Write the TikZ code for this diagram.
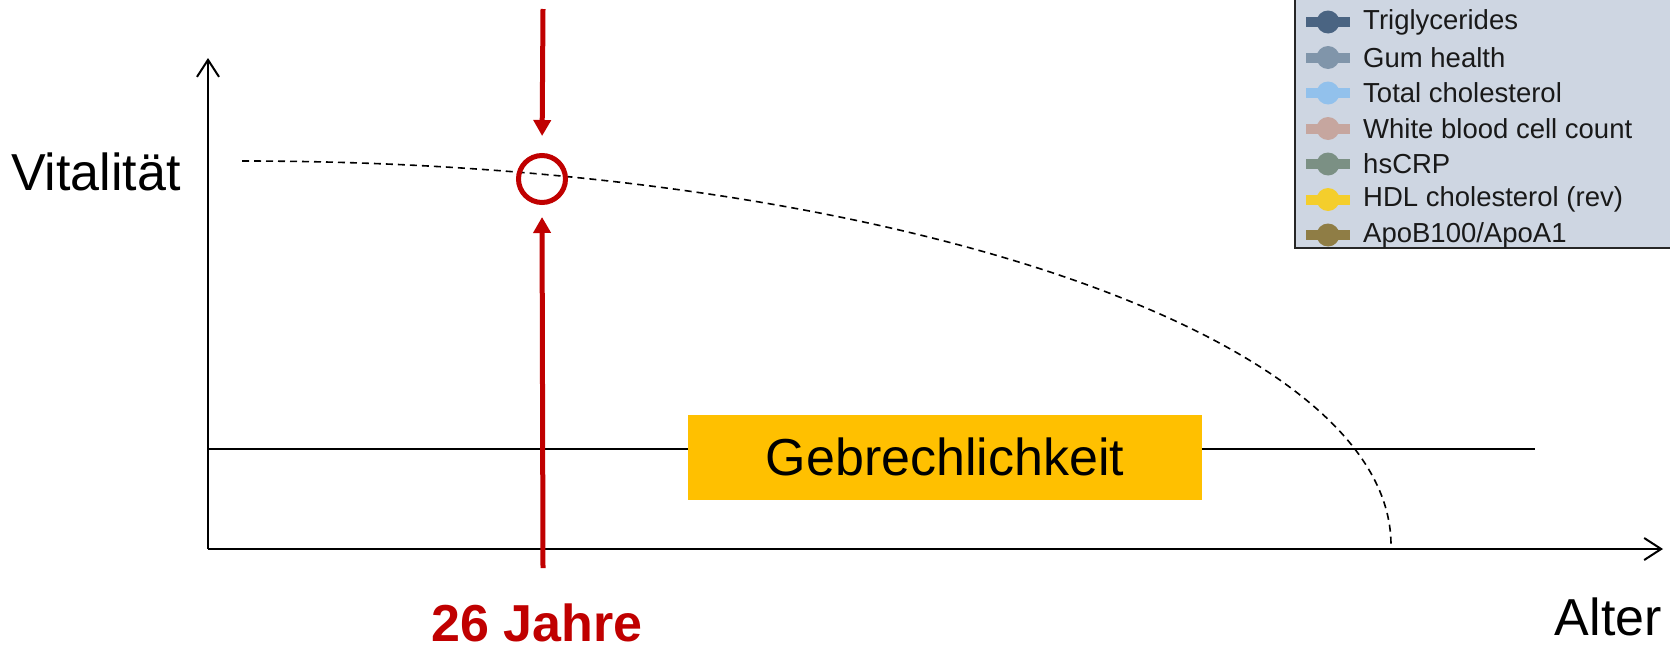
\documentclass[tikz,border=0pt]{standalone}
\usepackage{fontspec}
\setmainfont{Liberation Sans}
\usetikzlibrary{arrows.meta,positioning}
\definecolor{AgeRed}{HTML}{C00000}
\definecolor{FrailGold}{HTML}{FFC000}
\definecolor{LegendBg}{HTML}{CED6E2}
\definecolor{TriCol}{HTML}{4A6482}
\definecolor{GumCol}{HTML}{8095AA}
\definecolor{TcCol}{HTML}{92C1EC}
\definecolor{WbcCol}{HTML}{C6A69F}
\definecolor{CrpCol}{HTML}{7B9084}
\definecolor{HdlCol}{HTML}{F4CE2C}
\definecolor{ApoCol}{HTML}{8F7D45}

\begin{document}
\begin{tikzpicture}[x=1pt,y=-1pt,
axis/.style={line width=2pt,-{Straight Barb[length=17pt,width=22pt,line width=2pt]}},
frail/.style={line width=2pt},
vitcurve/.style={line width=1.6pt,dash pattern=on 7pt off 5pt},
redarr/.style={draw=AgeRed,line width=5pt,-{Triangle[length=16pt,width=17pt]}},
ring/.style={circle,draw=AgeRed,line width=5pt,minimum size=47pt,inner sep=0pt},
frailbox/.style={fill=FrailGold,minimum width=514pt,minimum height=85pt,inner sep=0pt,font=\fontsize{52}{60}\selectfont},
lbl/.style={font=\fontsize{52}{60}\selectfont,inner sep=0pt},
legtext/.style={font=\fontsize{27.5}{30}\selectfont,text=black!90,inner sep=0pt,anchor=west},
legmark/.style={line width=10pt}
]
\clip (0,0) rectangle (1670,653);
\fill[white] (0,0) rectangle (1670,653);

% axes
\coordinate (orig) at (208,549);
\coordinate (ytip) at (208,58);
\coordinate (xtip) at (1663,549);
\draw[axis] (orig) -- (ytip);
\draw[axis] (orig) -- (xtip);
\node[lbl,anchor=base west] (vit) at (11,190) {Vitalität};
\node[lbl,anchor=base east] (alter) at (1662,635) {Alter};

% frailty threshold
\coordinate (fl) at (208,449);
\coordinate (fr) at (1535,449);
\draw[frail] (fl) -- (fr);
\node[frailbox] (gebr) at (945,457) {Gebrechlichkeit};

% vitality curve
\coordinate (cstart) at (242,161);
\draw[vitcurve] (cstart) arc[start angle=-90,end angle=0,x radius=1149,y radius=384];

% age marker
\node[ring] (now) at (542,179) {};
\coordinate (atop) at (543,9);
\coordinate (abot) at (543,568);
\draw[redarr,shorten >=17pt] (atop) -- (now.north);
\draw[redarr,shorten >=12pt] (abot) -- (now.south);
\node[lbl,font=\fontsize{52}{60}\selectfont\bfseries,text=AgeRed,anchor=base] (age) at (537,641) {26 Jahre};

% legend (cut off)
\filldraw[fill=LegendBg,draw=black!85,line width=2pt] (1295,-10) rectangle (1690,248);
\foreach \col/\txt [count=\i] in {TriCol/Triglycerides,GumCol/Gum health,TcCol/Total cholesterol,WbcCol/White blood cell count,CrpCol/hsCRP,HdlCol/HDL cholesterol (rev),ApoCol/{ApoB100/ApoA1}}{
  \pgfmathsetmacro\yy{22+35.5*(\i-1)}
  \draw[legmark,\col] (1306,\yy) -- (1350,\yy);
  \fill[\col] (1328,\yy) circle[radius=11.5];
  \node[legtext] (leg\i) at (1363,\yy) {\txt};
}
\end{tikzpicture}
\end{document}
